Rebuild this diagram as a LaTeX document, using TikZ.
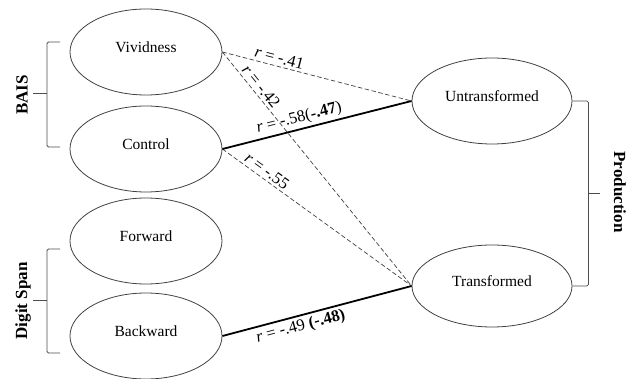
\documentclass[tikz,border=0pt]{standalone}
\usepackage{fontspec}
\setmainfont{Liberation Serif}
\usetikzlibrary{shapes.geometric}
\tikzset{
  factor/.style={ellipse, draw=black!75, line width=0.8pt, minimum width=152pt,
    minimum height=86pt, inner sep=0, text depth=10pt, font=\fontsize{15.5}{18}\selectfont},
  weak/.style={draw=black!75, line width=0.7pt, dash pattern=on 4.5pt off 2.5pt},
  strong/.style={draw=black, line width=1.8pt},
  coef/.style={sloped, inner sep=2.5pt, font=\fontsize{16.5}{18}\selectfont},
  brace/.style={draw=black!70, line width=0.8pt, rounded corners=1.5pt},
  group/.style={font=\bfseries\fontsize{17}{20}\selectfont}
}

\begin{document}
\begin{tikzpicture}[x=1pt,y=-1pt]
\useasboundingbox (0,0) rectangle (633,379);

% predictors
\node (viv) [factor] at (146,52) {Vividness};
\node (ctrl) [factor] at (146,149) {Control};
\node (fwd) [factor] at (146,241) {Forward};
\node (bwd) [factor] at (146,336) {Backward};

% production measures
\node (untr) [factor, minimum width=160pt] at (492,101) {Untransformed};
\node (trans) [factor, minimum width=160pt, minimum height=82pt] at (492,286) {Transformed};

% groups
\node (bais) [group, rotate=90] at (22,95) {BAIS};
\node (span) [group, rotate=90] at (23,301) {Digit Span};
\node (prod) [group, rotate=-90] at (620,192) {Production};

\draw [brace] (60,42) -- (47,42) -- (47,147) -- (60,147); \draw [brace] (47,93) -- (33,93);
\draw [brace] (60,249) -- (47,249) -- (47,353) -- (60,353); \draw [brace] (47,300) -- (33,300);
\draw [brace] (untr.east) -- ++(16,0) |- (trans.east); \draw [brace] (589,193) -- (600,193);

% correlations
\draw [weak] (viv.east) -- node (r41) [coef, pos=.29, above] {\textit{r} = -.41} (untr.west);
\draw [weak] (viv.east) -- node (r42) [coef, pos=.17, above] {\textit{r} = -.42} (trans.west);
\draw [weak] (ctrl.east) -- node (r55) [coef, pos=.21, above] {\textit{r} = -.55} (trans.west);
\draw [strong] (ctrl.east) -- node (r58) [coef, pos=.42, above] {\textit{r} = -.58(\textbf{-.47})} (untr.west);
\draw [strong] (bwd.east) -- node (r49) [coef, pos=.40, below] {\textit{r} = -.49 \textbf{(-.48)}} (trans.west);
\end{tikzpicture}
\end{document}
